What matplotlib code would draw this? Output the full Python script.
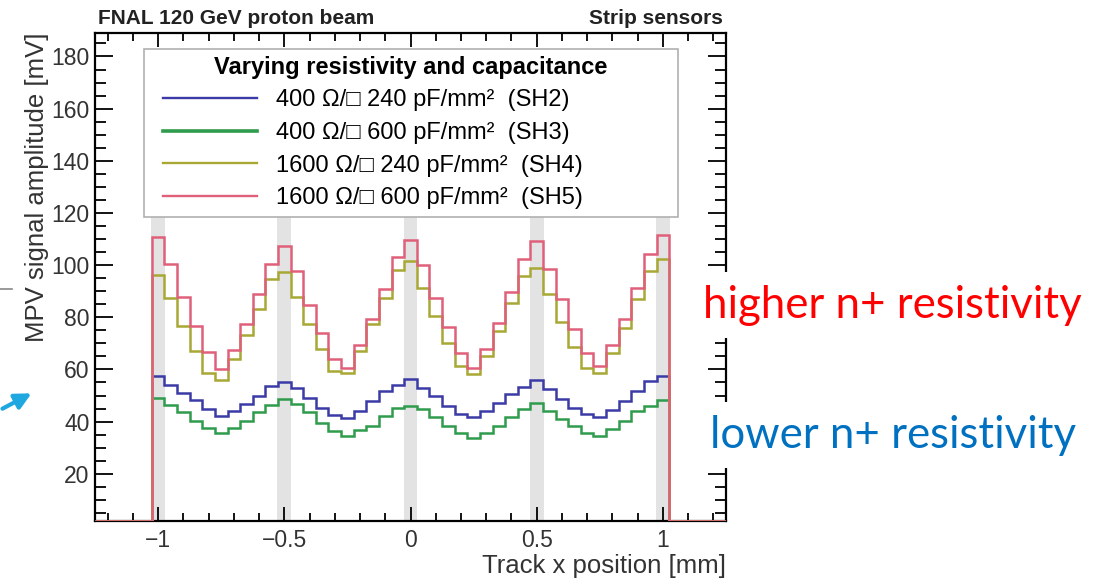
import numpy as np
import matplotlib
matplotlib.use("Agg")
import matplotlib.pyplot as plt
from matplotlib.patches import Rectangle
from matplotlib.ticker import MultipleLocator

# bin centres of the MPV histograms (0.05 mm bins)
x_centres = np.round(np.arange(-1.0, 1.0001, 0.05), 2)

sh2 = [57.3, 53.9, 51.1, 48.3, 44.7, 42.2, 44.1, 46.6, 49.8, 53.7,
       55.2, 52.7, 49.2, 45.4, 42.5, 41.3, 44.1, 47.9, 51.8, 54.1,
       56.2, 53.0, 49.9, 46.0, 42.8, 41.6, 44.1, 47.3, 50.5, 53.4,
       56.0, 52.4, 48.8, 45.4, 42.8, 41.6, 44.5, 47.9, 51.8, 55.6, 57.3]
sh3 = [49.0, 46.4, 43.5, 40.3, 37.5, 35.6, 37.5, 40.3, 43.5, 46.4,
       48.8, 46.7, 43.5, 39.6, 36.5, 34.5, 36.7, 38.4, 42.2, 45.4,
       46.0, 44.7, 41.6, 38.4, 35.6, 33.9, 35.6, 38.4, 41.6, 44.7,
       47.0, 44.1, 40.9, 38.4, 35.8, 34.5, 37.1, 40.3, 44.1, 46.0, 48.3]
sh4 = [96.2, 87.5, 76.6, 67.1, 58.8, 56.0, 63.9, 73.1, 83.3, 94.5,
       97.4, 87.9, 77.3, 67.7, 59.4, 58.5, 67.1, 77.3, 87.5, 98.3,
       101.5, 91.3, 80.5, 70.3, 61.3, 58.2, 65.2, 74.7, 85.3, 95.8,
       99.0, 88.8, 78.2, 68.7, 60.7, 58.8, 66.4, 76.0, 86.9, 97.7, 102.2]
sh5 = [110.7, 100.3, 87.9, 76.6, 66.7, 60.3, 67.5, 77.3, 88.8, 100.3,
       107.3, 97.7, 84.7, 73.8, 63.9, 60.7, 69.2, 79.2, 90.9, 103.1,
       109.8, 99.9, 87.5, 76.4, 66.2, 60.7, 67.7, 77.9, 89.7, 102.2,
       109.2, 98.6, 87.1, 75.6, 66.2, 61.3, 69.2, 79.2, 91.3, 104.1, 111.7]

labels = ["400 \u03a9/\u25a1 240 pF/mm\u00b2  (SH2)",
          "400 \u03a9/\u25a1 600 pF/mm\u00b2  (SH3)",
          "1600 \u03a9/\u25a1 240 pF/mm\u00b2  (SH4)",
          "1600 \u03a9/\u25a1 600 pF/mm\u00b2  (SH5)"]
colors = ["#3b3aa6", "#2f9b4c", "#a8a835", "#e0607a"]

strip_pos = [-1.0, -0.5, 0.0, 0.5, 1.0]
strip_width = 0.055

x_lo, x_hi = -1.25, 1.25
y_lo, y_hi = 2, 189

plt.rcParams["font.family"] = ["Liberation Sans", "DejaVu Sans"]

W, H = 1107, 580
fig = plt.figure(figsize=(W / 100, H / 100), dpi=100)
ax_px = (95, 33, 726, 520.7)  # left, top, right, bottom in pixels
ax = fig.add_axes([ax_px[0] / W, 1 - ax_px[3] / H,
                   (ax_px[2] - ax_px[0]) / W, (ax_px[3] - ax_px[1]) / H])
aw, ah = ax_px[2] - ax_px[0], ax_px[3] - ax_px[1]

# metal strips
for s in strip_pos:
    ax.fill_between([s - strip_width / 2, s + strip_width / 2], y_lo, 120,
                    color="#e3e3e3", lw=0, zorder=1)

# histograms, empty bins sit on the frame like in ROOT
half = 0.025
edges = np.concatenate([[x_lo], x_centres - half, [x_centres[-1] + half, x_hi]])
handles = []
for vals, c, lab in zip([sh2, sh3, sh4, sh5], colors, labels):
    v = np.concatenate([[0], vals, [0]])
    v = np.maximum(v, y_lo)
    ax.stairs(v, edges, baseline=None, color=c, lw=1.8, zorder=3)
    handles.append(plt.Line2D([], [], color=c, lw=2.6 if c == "#2f9b4c" else 1.7))

ax.set_xlim(x_lo, x_hi)
ax.set_ylim(y_lo, y_hi)
ax.xaxis.set_minor_locator(MultipleLocator(0.1))
ax.yaxis.set_major_locator(MultipleLocator(20))
ax.yaxis.set_minor_locator(MultipleLocator(5))
ax.set_xticks([-1, -0.5, 0, 0.5, 1])
ax.set_xticklabels(["\u22121", "\u22120.5", "0", "0.5", "1"])
ax.tick_params(which="both", direction="in", top=True, right=True,
               labelsize=16.5, labelcolor="#333333", width=1.3)
ax.tick_params(axis="y", which="major", length=13, pad=4)
ax.tick_params(axis="y", which="minor", length=8)
ax.tick_params(axis="x", which="major", length=10, pad=6)
ax.tick_params(axis="x", which="minor", length=5.5)
for sp in ax.spines.values():
    sp.set_linewidth(1.6)

ax.set_xlabel("Track x position [mm]", fontsize=18.5, color="#333333", loc="right")
ax.xaxis.set_label_coords(1.0, -0.068)
ax.set_ylabel("MPV signal amplitude [mV]", fontsize=18.5, color="#333333", loc="top")
ax.yaxis.set_label_coords((49 - 95) / aw, 1.0)

# legend box with a fixed ROOT-like size
box_l, box_t, box_r, box_b = 144, 49, 678, 217
ax.add_patch(Rectangle(((box_l - 95) / aw, 1 - (box_b - 33) / ah),
                       (box_r - box_l) / aw, (box_b - box_t) / ah,
                       transform=ax.transAxes, facecolor="white",
                       edgecolor="#b0b0b0", lw=1.2, zorder=4))
leg = ax.legend(handles, labels, title="Varying resistivity and capacitance",
                loc="upper left", mode="expand",
                bbox_to_anchor=((box_l + 14 - 95) / aw, 1 - (box_t + 7 - 33) / ah,
                                (box_r - box_l - 28) / aw, 0.01),
                fontsize=17, title_fontproperties={"weight": "bold", "size": 17},
                frameon=False, handlelength=4.0, handletextpad=0.8,
                borderpad=0.2, labelspacing=0.45, borderaxespad=0)
leg.set_zorder(5)

fig.text(98 / W, 1 - 18 / H, "FNAL 120 GeV proton beam", fontsize=15,
         weight="bold", color="#222222", va="center", ha="left")
fig.text(723 / W, 1 - 18 / H, "Strip sensors", fontsize=15,
         weight="bold", color="#222222", va="center", ha="right")

box = dict(facecolor="white", edgecolor="none", pad=9)
fig.text(703 / W, 1 - 305 / H, "higher n+ resistivity", fontsize=31.5,
         family="Lato", color="#ff0000", va="center", ha="left", bbox=box)
fig.text(710 / W, 1 - 435 / H, "lower n+ resistivity", fontsize=31.5,
         family="Lato", color="#0070c0", va="center", ha="left", bbox=box)

# pointer arrow and stub line at the left edge
ax.annotate("", xy=(34, H - 392), xytext=(0, H - 410),
            xycoords="figure pixels", textcoords="figure pixels",
            arrowprops=dict(arrowstyle="-|>", color="#1fa8e0", lw=3,
                            mutation_scale=24))
fig.add_artist(plt.Line2D([0, 12 / W], [1 - 289 / H, 1 - 289 / H],
                          color="#888888", lw=1.2))

fig.savefig("out.png", dpi=100)
